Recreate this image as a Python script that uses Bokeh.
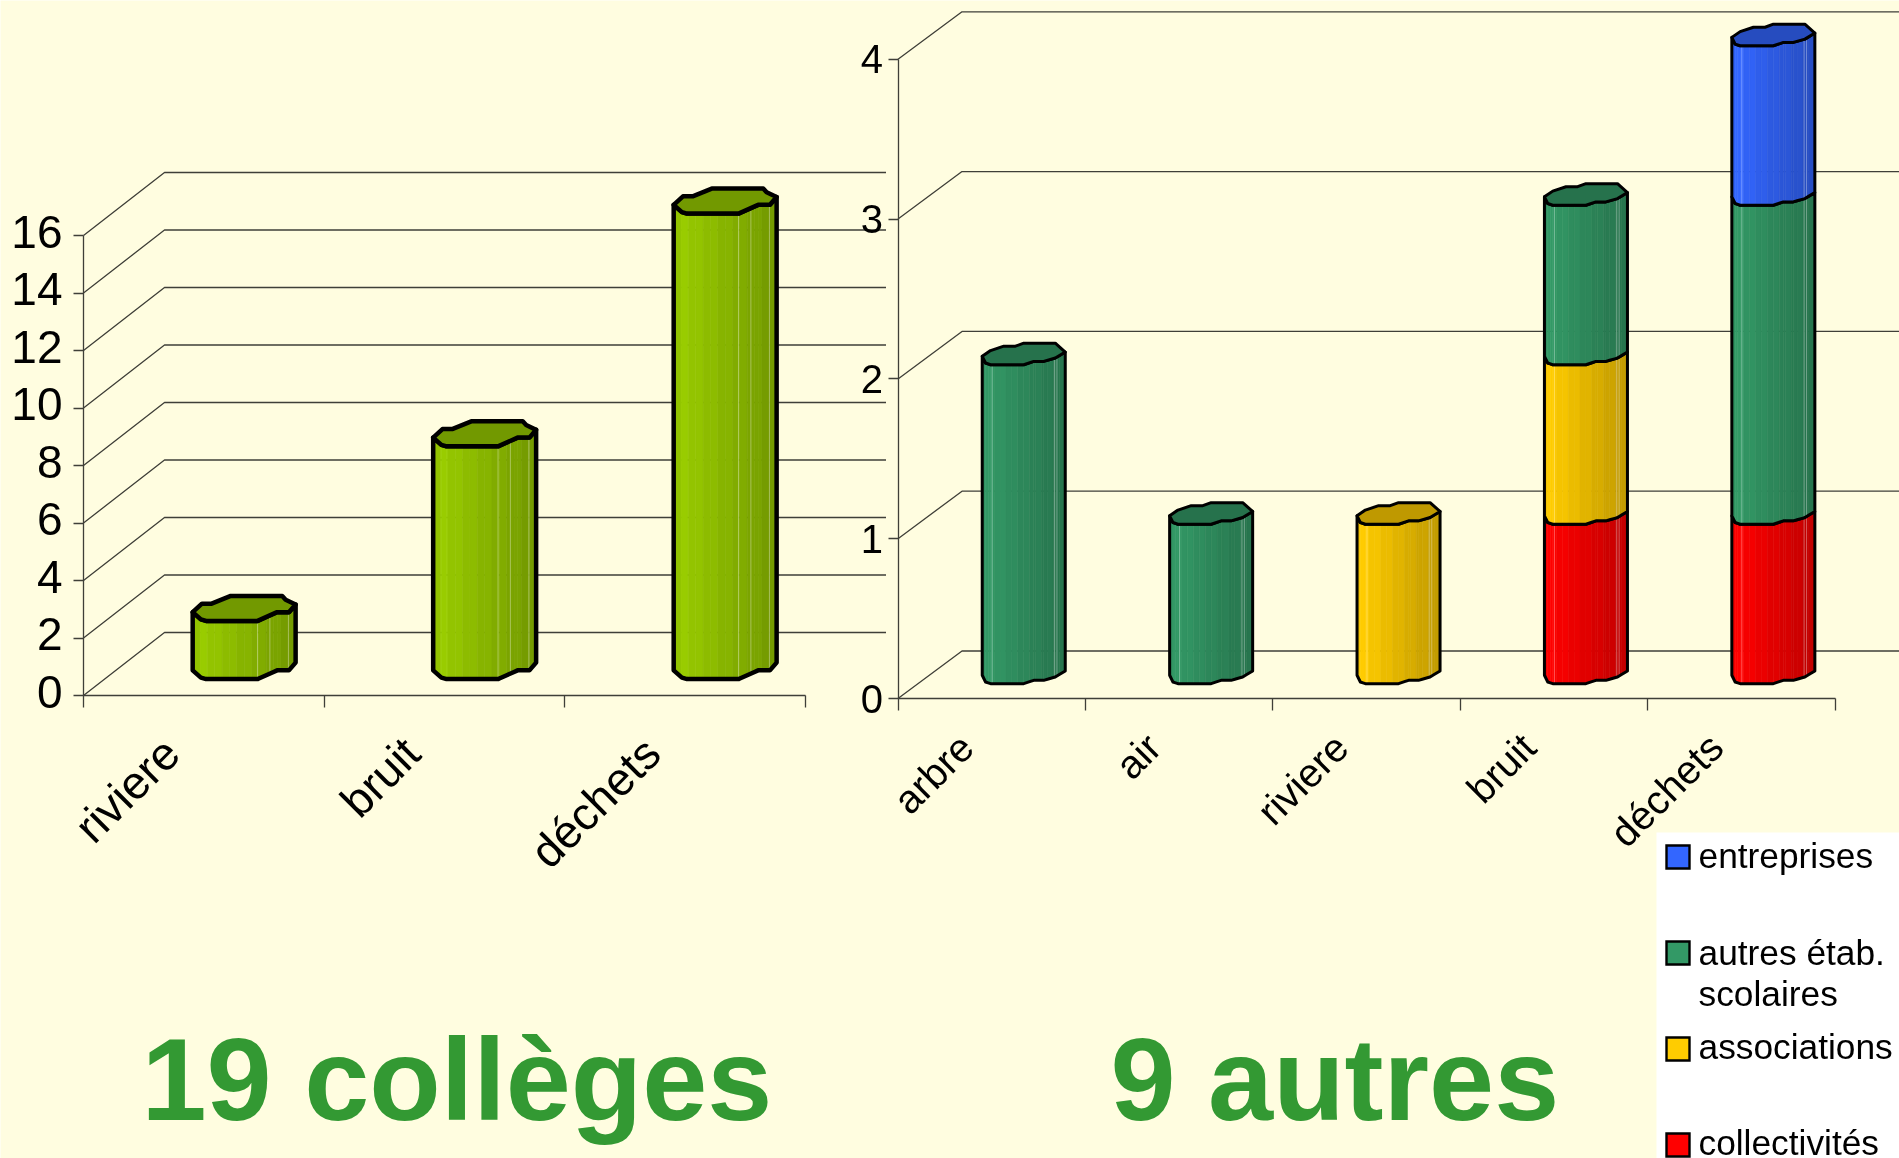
from math import pi
import numpy as np
from bokeh.plotting import figure
from bokeh.models import Range1d, LinearAxis, FixedTicker
from bokeh.core.properties import value
from bokeh.embed import file_html
from bokeh.resources import INLINE

# ---- data ----
left_categories = ["riviere", "bruit", "déchets"]
left_values = [2, 8, 16]
left_ticks = [0, 2, 4, 6, 8, 10, 12, 14, 16]

right_categories = ["arbre", "air", "riviere", "bruit", "déchets"]
collectivites = [0, 0, 0, 1, 1]
associations = [0, 0, 1, 1, 0]
autres_etab = [2, 1, 0, 1, 2]
entreprises = [0, 0, 0, 0, 1]
right_ticks = [0, 1, 2, 3, 4]

legend_labels = ["entreprises", "autres étab.\nscolaires", "associations", "collectivités"]
title_left = "19 collèges"
title_right = "9 autres"

# ---- style ----
W, H = 1899, 1158
BG = "#FFFDE0"
FONT = "Liberation Sans"
GRID = "#3f3f38"
LIME, GREEN, YELLOW, RED, BLUE = "#99CC00", "#339966", "#FFCC00", "#FF0000", "#3366FF"

# cross-sections of the faceted cylinders: (fraction of width, fraction of depth)
LEFT_TOP = [(0, .35), (.09, .69), (.184, .69), (.37, 1), (.87, 1), (.903, .85), (1, .66),
            (.935, .35), (.82, .35), (.63, 0), (.13, 0), (.08, .06)]
RIGHT_TOP = [(0, .39), (.10, .656), (.26, .86), (.4, .86), (.5, 1), (.88, 1), (1, .59),
             (.88, .31), (.74, .156), (.62, .156), (.5, 0), (.1, 0), (.04, .08)]


def shade(color, f):
    r, g, b = (int(color[i:i + 2], 16) for i in (1, 3, 5))
    return "#%02x%02x%02x" % (int(r * f), int(g * f), int(b * f))


def front_edge(section):
    pts = sorted({(fx, fy) for fx, fy in section[6:] + [section[0]]})
    return pts


# ---- scales: unit of each chart mapped on the page ----
L_X0, L_XU, L_Y0, L_YU = 83.0, 240.5, 695.0, 28.75
R_X0, R_XU, R_Y0, R_YU = 897.5, 187.4, 698.0, 159.8

p = figure(width=W, height=H, output_backend="svg", toolbar_location=None,
           x_axis_type=None, y_axis_type=None, min_border=0,
           x_range=Range1d(-L_X0 / L_XU, (W - L_X0) / L_XU),
           y_range=Range1d((L_Y0 - H) / L_YU, L_Y0 / L_YU),
           background_fill_color=BG, border_fill_color=BG, outline_line_color=None,
           styles={"position": "fixed", "left": "0px", "top": "0px"})
p.extra_x_ranges = {"x2": Range1d(-R_X0 / R_XU, (W - R_X0) / R_XU), "px": Range1d(0, W)}
p.extra_y_ranges = {"y2": Range1d((R_Y0 - H) / R_YU, R_Y0 / R_YU), "py": Range1d(H, 0)}
LEFT = dict()
RIGHT = dict(x_range_name="x2", y_range_name="y2")
PAGE = dict(x_range_name="px", y_range_name="py")


def walls(ticks, dx, dy, xmax, kw, width):
    xs, ys = [], []
    for t in ticks:
        xs.append([0, dx, xmax])
        ys.append([t, t + dy, t + dy])
    p.multi_line(xs, ys, line_color=GRID, line_width=width, **kw)


walls(left_ticks, 81 / L_XU, 63 / L_YU, 3 + 81 / L_XU, LEFT, 1.3)
walls(right_ticks, 64 / R_XU, 47.5 / R_YU, 6, RIGHT, 1.3)


def axes(ticks, cats, label_shift, font_y, font_x, kw, standoff, x_standoff, lift):
    n = len(cats)
    # tick marks and axis line
    y = LinearAxis(ticker=FixedTicker(ticks=ticks), fixed_location=0, bounds=(0, ticks[-1]),
                   major_tick_in=0, major_tick_out=10, minor_tick_line_color=None,
                   axis_line_color=GRID, major_tick_line_color=GRID, axis_line_width=1.3,
                   major_tick_line_width=1.3, major_label_text_font_size="0px",
                   major_label_text_color=None, **kw)
    p.add_layout(y, "left")
    # numbers, which sit a little above their tick marks in the reference
    lifted = [t + lift for t in ticks]
    y2 = LinearAxis(ticker=FixedTicker(ticks=lifted), fixed_location=0,
                    major_label_overrides={a: str(t) for a, t in zip(lifted, ticks)},
                    axis_line_color=None, major_tick_line_color=None, minor_tick_line_color=None,
                    major_tick_in=0, major_tick_out=10, major_label_standoff=standoff,
                    major_label_text_font=FONT, major_label_text_font_size=font_y,
                    major_label_text_color="black", **kw)
    p.add_layout(y2, "left")
    centers = [round(i + .5 - label_shift, 3) for i in range(n)]
    x = LinearAxis(ticker=FixedTicker(ticks=centers, minor_ticks=list(range(n + 1))),
                   fixed_location=0, bounds=(0, n),
                   major_label_overrides={c: t for c, t in zip(centers, cats)},
                   major_tick_line_color=None, major_tick_in=0, major_tick_out=0,
                   minor_tick_in=0, minor_tick_out=12, minor_tick_line_color=GRID,
                   axis_line_color=GRID, axis_line_width=1.3, minor_tick_line_width=1.3,
                   major_label_orientation=pi / 4, major_label_standoff=x_standoff,
                   major_label_text_font=FONT, major_label_text_font_size=font_x,
                   major_label_text_color="black", **kw)
    p.add_layout(x, "below")


axes(left_ticks, left_categories, .135, "46px", "46px", LEFT, 11, 38, .125)
axes(right_ticks, right_categories, .135, "40px", "40px", RIGHT, 5, 30, 0)


def draw_bar(cx, v0, v1, w, base, depth, section, color, lw, top, lights, kw):
    front = front_edge(section)
    fxs = np.array([a for a, _ in front])
    fys = np.array([b for _, b in front])
    grid = np.unique(np.concatenate([fxs, np.linspace(0, 1, 15)]))
    gy = np.interp(grid, fxs, fys)
    X = cx + w * (grid - .5)
    Yb = v0 + base + depth * gy
    Yt = v1 + base + depth * gy
    sx, sy, sc = [], [], []
    for i in range(len(grid) - 1):
        mid = (grid[i] + grid[i + 1]) / 2
        band = np.floor(mid * 7) / 7
        f = 1 - .27 * band
        if mid < .05:
            f = .96
        sx.append([X[i], X[i + 1], X[i + 1], X[i]])
        sy.append([Yb[i], Yb[i + 1], Yt[i + 1], Yt[i]])
        sc.append(shade(color, f))
    p.patches(sx, sy, fill_color=sc, line_color=sc, line_width=.6, **kw)
    for fl in lights:
        xl = cx + w * (fl - .5)
        yo = np.interp(fl, fxs, fys) * depth + base
        p.line([xl, xl], [v0 + yo + 0.0, v1 + yo], line_color="white", line_alpha=.35, line_width=1, **kw)
    ox = list(X) + list(X[::-1])
    oy = list(Yb) + list(Yt[::-1])
    p.patch(ox, oy, fill_color=None, line_color="black", line_width=lw, line_join="round", **kw)
    if top:
        tx = [cx + w * (a - .5) for a, _ in section]
        ty = [v1 + base + depth * b for _, b in section]
        p.patch(tx, ty, fill_color=shade(color, .75), line_color="black", line_width=lw,
                line_join="round", **kw)


LEFT_STRETCH = 1.012    # slight perspective growth of the bars against the front axis
RIGHT_STRETCH = .998

for i, v in enumerate(left_values):
    draw_bar(i + .668, 0, v * LEFT_STRETCH, .428, .57, .87, LEFT_TOP, LIME, 4.5, True, [.63, .75, .93], LEFT)

series = [(collectivites, RED), (associations, YELLOW), (autres_etab, GREEN), (entreprises, BLUE)]
for i in range(len(right_categories)):
    stack = 0
    parts = [(vals[i], col) for vals, col in series if vals[i] > 0]
    for k, (v, col) in enumerate(parts):
        draw_bar(i + .671, stack * RIGHT_STRETCH, (stack + v) * RIGHT_STRETCH, .443, .0926, .135,
                 RIGHT_TOP, col, 3, k == len(parts) - 1, [.12, .87, .9], RIGHT)
        stack += v

# ---- page level texts and key ----
p.text([141], [1079], text=[title_left], text_font=value(FONT), text_font_style="bold",
       text_font_size="117px", text_color="#339933", text_baseline="alphabetic", **PAGE)
p.text([1110], [1079], text=[title_right], text_font=value(FONT), text_font_style="bold",
       text_font_size="117px", text_color="#339933", text_baseline="alphabetic", **PAGE)

p.quad(left=[1656], right=[W], top=[832], bottom=[H], fill_color="white", line_color=None, **PAGE)
key_colors = [BLUE, GREEN, YELLOW, RED]
for n, col in enumerate(key_colors):
    y = 845 + 96 * n
    p.quad(left=[1666], right=[1689], top=[y], bottom=[y + 23], fill_color=col, line_color="black",
           line_width=2.4, line_join="miter", **PAGE)
lines = [t for lab in legend_labels for t in lab.split("\n")]
p.text([1698] * len(lines), [855, 952, 993, 1046, 1142], text=lines, text_font=value(FONT),
       text_font_size="35.3px", text_color="black", text_baseline="alphabetic", **PAGE)

open("out.html", "w").write(file_html(p, INLINE))
